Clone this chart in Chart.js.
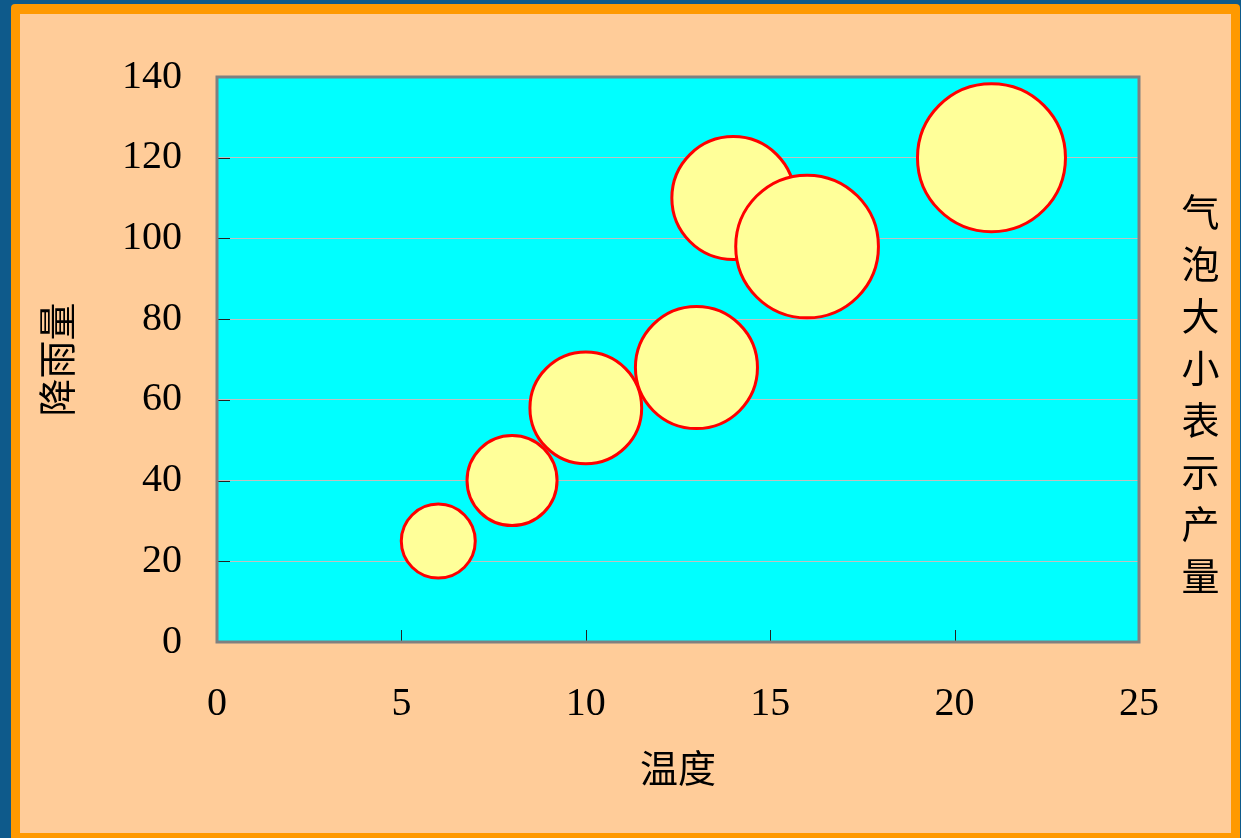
<!DOCTYPE html>
<html lang="zh-CN">
<head>
<meta charset="utf-8">
<title>温度与降雨量气泡图</title>
<script src="https://cdn.jsdelivr.net/npm/chart.js@4.4.1/dist/chart.umd.min.js"></script>
<style>
  html, body { margin: 0; padding: 0; background: #0E5A8B; }
  #wrap { position: relative; width: 1241px; height: 838px; }
  #chart { position: absolute; left: 0; top: 0; }
  #sizeNote {
    position: absolute;
    left: 1181px;
    top: 193px;
    font-family: "Noto Sans CJK SC", sans-serif;
    font-size: 38px;
    line-height: 38px;
    color: #000;
    writing-mode: vertical-rl;
    text-orientation: upright;
    letter-spacing: 14px;
    margin: 0;
  }
</style>
</head>
<body>
<div id="wrap">
  <canvas id="chart" width="1241" height="838"></canvas>
  <div id="sizeNote">气泡大小表示产量</div>
</div>
<script>
// 温度 (x), 降雨量 (y), 产量 (bubble size)
const temperature = [6, 8, 10, 13, 14, 16, 21];
const rainfall    = [25, 40, 58, 68, 110, 98, 120];
const production  = [25, 37, 57, 68, 69, 93, 100];

const xTicks = [0, 5, 10, 15, 20, 25];
const yTicks = [0, 20, 40, 60, 80, 100, 120, 140];

// bubble area proportional to production
const MAX_RADIUS = 74;
const maxProduction = Math.max(...production);
const radiusFor = v => MAX_RADIUS * Math.sqrt(v / maxProduction);

const points = temperature.map((t, i) => ({ x: t, y: rainfall[i], r: radiusFor(production[i]) }));

const tickFont = { family: '"Liberation Serif", "Times New Roman", serif', size: 40, lineHeight: 1 };
const cjkFont = { family: '"Noto Sans CJK SC", sans-serif', size: 38, lineHeight: 1 };

// page frame, plot background, plot border and inner tick marks
const framePlugin = {
  id: 'frame',
  beforeDraw(chart) {
    const ctx = chart.ctx;
    const W = chart.width, H = chart.height;
    ctx.save();
    ctx.fillStyle = '#0E5A8B';
    ctx.fillRect(0, 0, W, H);
    ctx.fillStyle = '#FF9900';
    ctx.beginPath();
    ctx.roundRect(11, 4, 1229, H, [4, 4, 0, 0]);
    ctx.fill();
    ctx.fillStyle = '#FFCC99';
    ctx.fillRect(20, 14, 1211, 819);
    const a = chart.chartArea;
    ctx.fillStyle = '#00FFFF';
    ctx.fillRect(a.left, a.top, a.right - a.left, a.bottom - a.top);
    ctx.restore();
  },
  afterDatasetsDraw(chart) {
    const ctx = chart.ctx;
    const a = chart.chartArea;
    const xs = chart.scales.x, ys = chart.scales.y;
    ctx.save();
    ctx.strokeStyle = '#222';
    ctx.lineWidth = 1;
    ctx.beginPath();
    yTicks.forEach(v => {
      const py = Math.round(ys.getPixelForValue(v)) + 0.5;
      ctx.moveTo(a.left, py);
      ctx.lineTo(a.left + 13, py);
    });
    xTicks.forEach(v => {
      const px = Math.round(xs.getPixelForValue(v)) + 0.5;
      ctx.moveTo(px, a.bottom);
      ctx.lineTo(px, a.bottom - 12);
    });
    ctx.stroke();
    ctx.strokeStyle = '#808080';
    ctx.lineWidth = 3;
    ctx.strokeRect(a.left, a.top, a.right - a.left, a.bottom - a.top);
    ctx.restore();
  }
};

new Chart(document.getElementById('chart'), {
  type: 'bubble',
  data: {
    datasets: [{
      label: '产量',
      data: points,
      backgroundColor: '#FFFF99',
      borderColor: '#FF0000',
      borderWidth: 3,
      hoverRadius: 0
    }]
  },
  options: {
    responsive: false,
    devicePixelRatio: 1,
    animation: false,
    events: [],
    layout: { padding: { left: 20, top: 73, right: 102, bottom: 0 } },
    plugins: { legend: { display: false }, tooltip: { enabled: false } },
    scales: {
      x: {
        type: 'linear',
        min: 0, max: 25,
        afterBuildTicks(scale) { scale.ticks = xTicks.map(v => ({ value: v })); },
        afterFit(scale) { scale.height = 196; },
        grid: { display: false, drawTicks: false },
        border: { display: false },
        ticks: { font: tickFont, color: '#000', padding: 42, maxRotation: 0 },
        title: { display: true, text: '温度', font: cjkFont, color: '#000', padding: { top: 0, bottom: 51 } }
      },
      y: {
        type: 'linear',
        min: 0, max: 140,
        afterBuildTicks(scale) { scale.ticks = yTicks.map(v => ({ value: v })); },
        afterFit(scale) { scale.width = 197; },
        grid: { color: '#C0C0C0', lineWidth: 1, drawTicks: false },
        border: { display: false },
        ticks: { font: tickFont, color: '#000', padding: 35 },
        title: { display: true, text: '降雨量', font: cjkFont, color: '#000', padding: { top: 18, bottom: 0 } }
      }
    }
  },
  plugins: [framePlugin]
});
</script>
</body>
</html>
